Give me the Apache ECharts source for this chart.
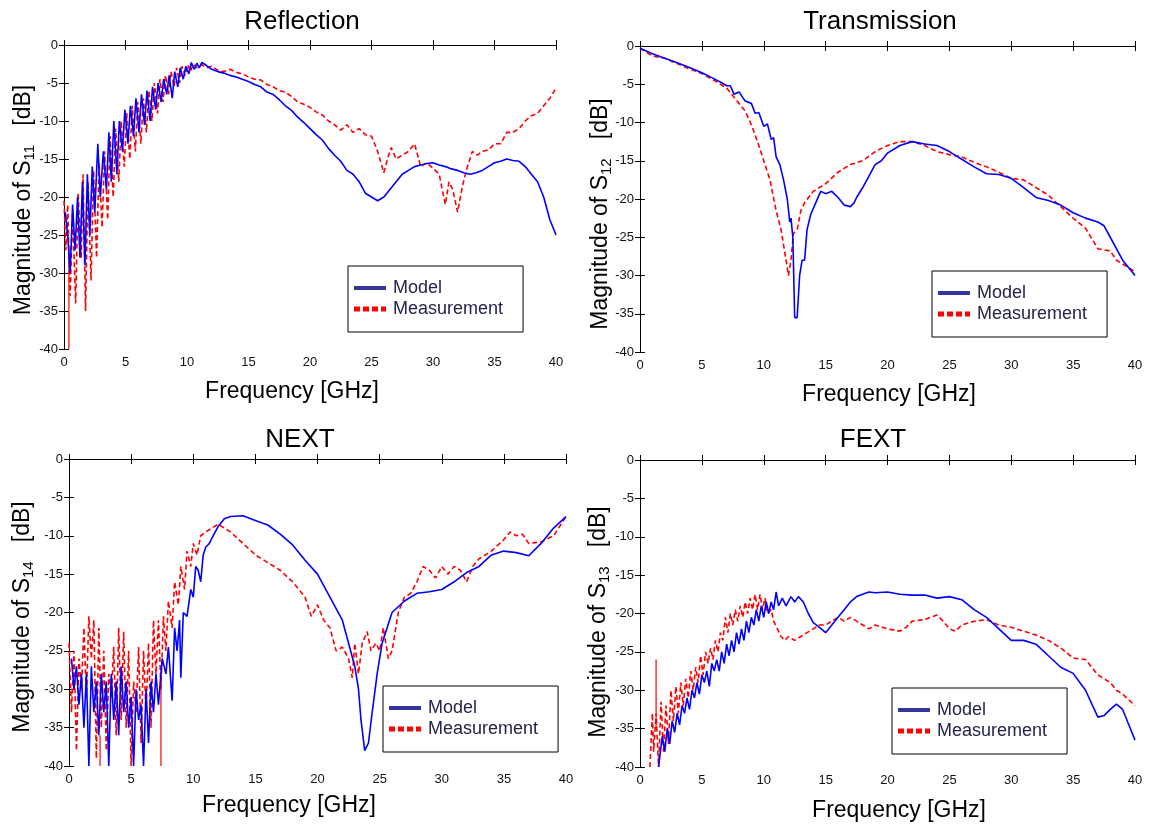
<!DOCTYPE html>
<html><head><meta charset="utf-8">
<script src="https://cdn.jsdelivr.net/npm/echarts@6/dist/echarts.min.js"></script>
<style>html,body{margin:0;padding:0;background:#fff}#c{width:1151px;height:825px}</style>
</head><body><div id="c"></div>
<script>
// ---------- DATA ----------
const xTicks = [0,5,10,15,20,25,30,35,40];
const yTicks = [-40,-35,-30,-25,-20,-15,-10,-5,0];
const legendNames = ['Model','Measurement'];
const panelTitles = ['Reflection','Transmission','NEXT','FEXT'];
const panelSubs = ['11','12','14','13'];

const reflectionModel = [[0.1,-22],[0.3,-25],[0.5,-30],[0.7,-21],[0.9,-27],[1.1,-20],[1.3,-28],[1.5,-18],[1.7,-29],[1.9,-17],[2.1,-25],[2.3,-16],[2.5,-22],[2.75,-13],[2.95,-20],[3.2,-14],[3.45,-19],[3.65,-11.5],[3.85,-18],[4.05,-10],[4.3,-17],[4.5,-10],[4.75,-14],[4.95,-8.5],[5.2,-13],[5.4,-8],[5.65,-12],[5.85,-7],[6.1,-11.5],[6.3,-6.5],[6.55,-10.5],[6.75,-6],[7.0,-10],[7.2,-5.5],[7.45,-8.5],[7.65,-5],[7.9,-7.5],[8.1,-4.5],[8.35,-6.5],[8.55,-4],[8.8,-7],[9.0,-3.5],[9.25,-5.5],[9.45,-3],[9.7,-4.5],[9.9,-2.8],[10.15,-3.8],[10.35,-2.3],[10.6,-3.2],[10.8,-2.4],[11.0,-3],[11.2,-2.3],[11.5,-2.6],[12,-3.2],[12.5,-3.5],[13,-3.7],[13.5,-4],[14,-4.2],[14.5,-4.5],[15,-4.8],[15.5,-5.2],[16,-5.5],[16.5,-6.2],[17,-6.5],[17.5,-7.2],[18,-8],[18.5,-8.6],[19,-9.5],[19.5,-10.2],[20,-11],[20.5,-11.8],[21,-12.5],[21.5,-13.6],[22,-14.5],[22.5,-15.3],[23,-16.5],[23.5,-17],[24,-18],[24.5,-19.5],[25,-20],[25.5,-20.5],[26,-20],[26.5,-19],[27,-18],[27.5,-17],[28,-16.5],[28.5,-16],[29,-15.8],[29.5,-15.6],[30,-15.5],[30.5,-15.8],[31,-16],[31.5,-16.3],[32,-16.5],[32.5,-16.8],[33,-17],[33.5,-16.8],[34,-16.5],[34.5,-16],[35,-15.5],[35.5,-15.3],[36,-15],[36.5,-15.2],[37,-15.3],[37.5,-16],[38,-17],[38.5,-18],[39,-20],[39.5,-23],[40,-25]];
const reflectionMeas = [[0,-20.5],[0.15,-27],[0.3,-21],[0.5,-33],[0.7,-22],[0.95,-34],[1.15,-19.5],[1.4,-28],[1.55,-17],[1.75,-35],[1.95,-18],[2.2,-31],[2.4,-16.5],[2.65,-28],[2.85,-15.5],[3.1,-24],[3.3,-14],[3.55,-23],[3.75,-12],[4.0,-20],[4.2,-11],[4.45,-18],[4.65,-10],[4.9,-16],[5.1,-9],[5.35,-15],[5.55,-8],[5.8,-14],[6.0,-7.5],[6.25,-13],[6.45,-7],[6.7,-11.5],[6.9,-6],[7.15,-10],[7.35,-5],[7.6,-9],[7.8,-4.5],[8.05,-7.5],[8.25,-4],[8.5,-6.5],[8.7,-3.5],[8.95,-5.5],[9.15,-3],[9.4,-5],[9.6,-2.8],[9.85,-4],[10.05,-2.6],[10.3,-3.5],[10.5,-2.5],[10.8,-3],[11.2,-2.6],[11.6,-3],[12,-2.8],[12.5,-3.3],[13,-3.5],[13.5,-3.2],[14,-3.6],[14.5,-3.8],[15,-4.2],[15.5,-4.5],[16,-4.6],[16.5,-5.2],[17,-5.5],[17.5,-6],[18,-6.2],[18.5,-6.8],[19,-7.5],[19.5,-7.8],[20,-8.2],[20.5,-8.8],[21,-9.2],[21.5,-10],[22,-10.5],[22.5,-11.2],[23,-10.5],[23.5,-11.5],[24,-11],[24.5,-11.8],[25,-12],[25.5,-14],[26,-16.8],[26.3,-15],[26.6,-13.5],[27,-15],[27.5,-14.5],[28,-14],[28.5,-13],[29,-16],[29.5,-15.5],[30,-16.2],[30.5,-17],[31,-21],[31.3,-18],[31.6,-19],[32,-22],[32.4,-18.5],[32.8,-16],[33.2,-14],[33.6,-14.5],[34,-14],[34.5,-13.8],[35,-13],[35.5,-13],[36,-11.5],[36.5,-11.5],[37,-11],[37.5,-10],[38,-9.3],[38.5,-9],[39,-8],[39.5,-7],[40,-5.7]];
const reflectionSpike = [[0.4,-27],[0.4,-40]];

const transmissionModel = [[0,-0.3],[1,-1],[2,-1.6],[3,-2.2],[4,-2.8],[5,-3.5],[6,-4.3],[6.6,-4.8],[7,-5.2],[7.3,-5.2],[7.6,-6.3],[8,-6],[8.5,-7.2],[9,-7.5],[9.3,-8.8],[9.6,-8.7],[10,-10.5],[10.3,-10.2],[10.6,-12.2],[10.8,-12],[11,-14.5],[11.3,-15.5],[11.6,-17.5],[11.9,-20],[12.1,-23],[12.2,-22.5],[12.35,-25],[12.5,-35.5],[12.7,-35.5],[12.9,-30],[13.1,-28],[13.3,-28],[13.5,-24],[13.8,-22],[14.2,-20.5],[14.6,-19],[15,-19.3],[15.5,-19],[16,-19.8],[16.5,-20.8],[17,-21],[17.3,-20.5],[17.5,-19.8],[18,-18.5],[18.5,-17],[19,-15.5],[19.5,-15],[20,-14],[21,-13],[22,-12.5],[23,-12.8],[24,-13],[25,-13.8],[26,-14.8],[27,-15.8],[28,-16.7],[29,-16.8],[30,-17.3],[31,-18.5],[32,-19.8],[33,-20.2],[34,-20.8],[35,-21.8],[36,-22.5],[37,-23],[37.5,-23.5],[38,-25],[39,-28],[40,-30]];
const transmissionMeas = [[0,-0.3],[1,-1.3],[2,-1.6],[3,-2.3],[4,-3],[5,-3.6],[6,-4.5],[7,-5.5],[7.5,-6.5],[8,-7.5],[8.5,-8.5],[9,-10.3],[9.5,-12.5],[10,-15],[10.5,-17.5],[11,-21.5],[11.4,-24],[11.7,-27],[12,-30],[12.2,-28],[12.4,-24.5],[12.7,-24],[13,-21.5],[13.3,-20.5],[14,-19],[15,-18],[16,-16.5],[17,-15.5],[18,-15],[19,-13.8],[20,-13],[21,-12.5],[22,-12.5],[23,-13],[24,-13.8],[25,-14.2],[26,-14.5],[27,-15.2],[28,-15.8],[29,-16.5],[30,-17.3],[31,-17.5],[32,-18.5],[33,-19.5],[34,-21],[35,-22.5],[36,-23.8],[37,-26.5],[38,-26.8],[38.5,-28],[39,-28.5],[40,-29.5]];

const nextModel = [[0.2,-26],[0.4,-30],[0.6,-27],[0.8,-32],[1.0,-28],[1.2,-35],[1.4,-28],[1.6,-40],[1.8,-27],[2.0,-33],[2.2,-29],[2.4,-36],[2.6,-28],[2.8,-33],[3.0,-29],[3.2,-40],[3.4,-28],[3.6,-34],[3.8,-29],[4.0,-36],[4.2,-27],[4.4,-33],[4.6,-29],[4.8,-35],[5.0,-31],[5.2,-40],[5.4,-30],[5.6,-34],[5.8,-32],[6.0,-40],[6.2,-30],[6.4,-37],[6.6,-29],[6.8,-33],[7.0,-28],[7.2,-32],[7.5,-26],[7.8,-28],[8.0,-24.5],[8.3,-31.5],[8.5,-22],[8.7,-25],[8.9,-21],[9.0,-28.5],[9.2,-20],[9.5,-20.5],[9.8,-17],[10.0,-18],[10.2,-14],[10.4,-14.5],[10.6,-16],[10.8,-12.5],[11.0,-11.5],[11.3,-11],[11.6,-10],[12,-8.8],[12.5,-7.8],[13,-7.5],[14,-7.4],[15,-8],[16,-8.6],[17,-9.8],[18,-11.2],[19,-13.2],[20,-15],[21,-18],[22,-21],[22.5,-24],[23,-27],[23.3,-30],[23.5,-34],[23.8,-38],[24.1,-37],[24.4,-33],[24.8,-28],[25.2,-24],[26,-20],[27,-18.5],[28,-17.5],[29,-17.3],[30,-17],[31,-16],[32,-14.8],[33,-14],[34,-12.5],[35,-12],[36,-12.2],[37,-12.6],[38,-11],[39,-9],[40,-7.5]];
const nextMeas = [[0,-24],[0.2,-33],[0.4,-25],[0.6,-38],[0.8,-26],[1.0,-30],[1.2,-22],[1.4,-31],[1.6,-20.5],[1.8,-26],[2.0,-21],[2.2,-39],[2.4,-22],[2.6,-35],[2.8,-25],[3.0,-38],[3.2,-28],[3.4,-31],[3.6,-24.5],[3.8,-36],[4.0,-22],[4.2,-34],[4.4,-22.5],[4.6,-35],[4.8,-25],[5.0,-40],[5.2,-29],[5.4,-33],[5.6,-24.5],[5.8,-37],[6.0,-25],[6.2,-33],[6.4,-24],[6.6,-35],[6.8,-21],[7.0,-28],[7.2,-21],[7.4,-30],[7.6,-20.5],[7.8,-25],[8.0,-18.5],[8.3,-22],[8.5,-16],[8.8,-19],[9.0,-14],[9.3,-17],[9.5,-12],[9.8,-14],[10.0,-11],[10.3,-12.5],[10.6,-10],[11,-9.5],[11.5,-9],[12,-8.5],[12.5,-9],[13,-9.5],[14,-11],[15,-12.5],[16,-13.5],[17,-14.5],[18,-16],[19,-18],[19.5,-20.5],[20,-19],[20.5,-21],[21,-22],[21.5,-25],[22,-24.5],[22.5,-26],[22.8,-28.5],[23,-24],[23.3,-28],[23.6,-24],[24,-22.5],[24.3,-25],[24.7,-24],[25,-25],[25.3,-22],[25.7,-26],[26,-25],[26.5,-20],[27,-18],[27.5,-17.5],[28,-16],[28.5,-14],[29,-14.5],[29.5,-15.5],[30,-14],[30.5,-15],[31,-14],[31.5,-14.5],[32,-16],[32.5,-14],[33,-13],[34,-12],[35,-10.5],[35.5,-9.5],[36,-10],[36.5,-9.8],[37,-11],[38,-10.8],[39,-10],[40,-7.5]];
const nextSpikeA = [[2.5,-36],[2.5,-40]];
const nextSpikeB = [[7.4,-28],[7.4,-40]];

const fextModel = [[1.5,-40],[1.8,-36],[2.0,-38],[2.2,-35],[2.4,-37],[2.6,-34],[2.8,-35.5],[3.0,-33],[3.2,-34.5],[3.4,-32],[3.6,-33],[3.8,-31],[4.0,-32.5],[4.2,-30],[4.4,-31],[4.6,-29],[4.8,-30.5],[5.0,-28],[5.2,-29],[5.4,-27.5],[5.6,-29.5],[5.8,-26.5],[6.0,-27.5],[6.2,-26],[6.4,-27.5],[6.6,-25],[6.8,-26.5],[7.0,-24],[7.2,-25.5],[7.4,-23.5],[7.6,-25],[7.8,-22.5],[8.0,-24],[8.2,-22],[8.4,-23.5],[8.6,-21],[8.8,-22.5],[9.0,-20.5],[9.2,-21.5],[9.4,-19.5],[9.6,-21],[9.8,-19],[10.0,-20.5],[10.2,-18.5],[10.4,-20],[10.6,-18.5],[10.8,-19.5],[11.0,-17.2],[11.2,-19],[11.5,-18],[11.8,-19],[12.2,-17.8],[12.5,-18.5],[12.8,-17.8],[13.2,-18.5],[13.6,-20],[14,-21.2],[14.5,-21.8],[15,-22.5],[15.5,-21.5],[16,-20.5],[16.5,-19.5],[17,-18.5],[17.5,-17.8],[18,-17.5],[18.5,-17.2],[19,-17.3],[20,-17.2],[21,-17.5],[22,-17.6],[23,-17.6],[24,-18],[25,-17.8],[26,-18.2],[27,-19.5],[28,-20.5],[29,-22],[30,-23.5],[31,-23.5],[32,-24],[33,-25.5],[34,-27],[35,-27.8],[36,-30],[37,-33.5],[37.5,-33.3],[38,-32.5],[38.5,-31.8],[39,-32.5],[39.5,-34.5],[40,-36.5]];
const fextMeas = [[0.8,-40],[1.0,-33],[1.1,-38],[1.3,-33],[1.5,-40],[1.7,-31.5],[1.9,-38],[2.1,-32],[2.3,-37],[2.5,-30],[2.7,-34],[2.9,-29.5],[3.1,-33],[3.3,-29],[3.5,-32],[3.7,-28.5],[3.9,-31],[4.1,-27.5],[4.3,-30],[4.5,-27],[4.7,-29],[4.9,-25.5],[5.1,-28],[5.3,-25],[5.5,-26.5],[5.7,-24.5],[5.9,-26],[6.1,-23.5],[6.3,-25],[6.5,-22.5],[6.7,-23.5],[6.9,-20.5],[7.1,-22.5],[7.3,-20],[7.5,-21.5],[7.7,-19.5],[7.9,-21],[8.1,-19],[8.3,-20.5],[8.5,-18.5],[8.7,-20],[8.9,-18],[9.1,-19.5],[9.3,-17.5],[9.5,-19.5],[9.7,-17.5],[9.9,-19.5],[10.1,-18],[10.3,-20],[10.6,-19.5],[10.8,-21],[11.1,-22],[11.4,-23],[11.7,-23.5],[12,-23],[12.5,-23.5],[13,-23],[13.5,-22.5],[14,-22],[14.5,-21.5],[15,-21.5],[15.5,-21],[16,-20.5],[16.5,-21],[17,-20.5],[17.5,-21],[18,-21.5],[18.5,-22],[19,-21.5],[20,-22],[21,-22.3],[21.5,-21.8],[22,-21],[23,-20.8],[24,-20.2],[24.5,-21],[25,-22],[25.5,-22.3],[26,-21.5],[27,-21],[28,-20.8],[29,-21.5],[30,-21.8],[31,-22.3],[32,-22.8],[33,-23.5],[34,-24.5],[35,-25.8],[36,-26],[36.5,-27],[37,-28],[38,-29],[38.5,-30],[39,-30.5],[40,-32]];
const fextSpike = [[1.3,-26],[1.3,-35]];

// ---------- LAYOUT / STYLE ----------
const FONT = '"Liberation Sans", Arial, sans-serif';
const grids = [
  {left:64, top:45, width:492, height:304},
  {left:640, top:46, width:495, height:306},
  {left:69, top:459, width:497, height:307},
  {left:640, top:460, width:495, height:307}
];
const titlePos = [[302,22],[880,22],[300,440],[873,440]];
const xNamePos = [[292,392],[889,395],[289,806],[899,811]];
const yNamePos = [[24,200],[601,214],[23,617],[599,622]];
const legendBox = [[348,266],[932,271],[383,686],[892,688]];

const modelData = [reflectionModel, transmissionModel, nextModel, fextModel];
const measData = [reflectionMeas, transmissionMeas, nextMeas, fextMeas];
const spikes = [[reflectionSpike],[],[nextSpikeA,nextSpikeB],[fextSpike]];

const BLUE = '#0000ff', RED = '#ff0000';
const MODEL_ICON = 'path://M0,0H32V4H0Z';
const MEAS_ICON = 'path://M0,0H6V5H0Z M9,0H15V5H9Z M18,0H24V5H18Z M27,0H32V5H27Z';
const option = {backgroundColor:'#fff', animation:false, grid:[], xAxis:[], yAxis:[], series:[], legend:[], graphic:[]};

grids.forEach((g,i)=>{
  option.grid.push({left:g.left, top:g.top, width:g.width, height:g.height, containLabel:false});
  const axLine = {show:true, lineStyle:{color:'#000', width:1}};
  const tick = {show:true, inside:true, length:5, lineStyle:{color:'#000'}};
  option.xAxis.push({type:'value', gridIndex:i, min:xTicks[0], max:xTicks[xTicks.length-1], interval:5,
    axisLine:axLine, axisTick:tick, splitLine:{show:false},
    axisLabel:{fontSize:13, color:'#111', fontFamily:FONT, margin:7}});
  option.xAxis.push({type:'value', gridIndex:i, position:'top', min:0, max:40, interval:5,
    axisLine:axLine, axisTick:tick, splitLine:{show:false}, axisLabel:{show:false}});
  option.yAxis.push({type:'value', gridIndex:i, min:yTicks[0], max:yTicks[yTicks.length-1], interval:5,
    axisLine:axLine, axisTick:tick, splitLine:{show:false},
    axisLabel:{fontSize:13, color:'#111', fontFamily:FONT, margin:6}});
  option.yAxis.push({type:'value', gridIndex:i, position:'right', min:-40, max:0, interval:5,
    axisLine:axLine, axisTick:tick, splitLine:{show:false}, axisLabel:{show:false}});
  const xi = i*2, yi = i*2;
  option.series.push({type:'line', name:legendNames[0], xAxisIndex:xi, yAxisIndex:yi, data:modelData[i],
    showSymbol:false, symbol:'none', lineStyle:{color:BLUE, width:1.6}, itemStyle:{color:BLUE}, z:3});
  option.series.push({type:'line', name:legendNames[1], xAxisIndex:xi, yAxisIndex:yi, data:measData[i],
    showSymbol:false, symbol:'none', lineStyle:{color:RED, width:1.6, type:[5,3]}, itemStyle:{color:RED}, z:2});
  spikes[i].forEach(s=>{
    option.series.push({type:'line', name:'spike', xAxisIndex:xi, yAxisIndex:yi, data:s,
      showSymbol:false, symbol:'none', lineStyle:{color:RED, width:1.2}, z:2});
  });
  option.legend.push({orient:'vertical', left:legendBox[i][0], top:legendBox[i][1],
    backgroundColor:'#fff', borderColor:'#000', borderWidth:1, padding:[13,20,14,6],
    itemWidth:32, itemHeight:14, itemGap:3, selectedMode:false,
    textStyle:{fontSize:18, color:'#24244c', fontFamily:FONT, padding:[0,0,0,2]},
    data:[
      {name:legendNames[0], icon:MODEL_ICON, itemStyle:{color:'#33339a', borderWidth:0}},
      {name:legendNames[1], icon:MEAS_ICON, itemStyle:{color:RED, borderWidth:0}}
    ]});
  option.graphic.push({type:'text', x:titlePos[i][0], y:titlePos[i][1],
    style:{text:panelTitles[i], font:'26px '+FONT, fill:'#000', align:'center', verticalAlign:'middle', textAlign:'center', textVerticalAlign:'middle'}});
  option.graphic.push({type:'text', x:xNamePos[i][0], y:xNamePos[i][1],
    style:{text:'Frequency [GHz]', font:'23px '+FONT, fill:'#000', align:'center', verticalAlign:'middle', textAlign:'center', textVerticalAlign:'middle'}});
  option.graphic.push({type:'text', x:yNamePos[i][0], y:yNamePos[i][1], rotation:Math.PI/2,
    style:{text:'{n|Magnitude of S}{s|'+panelSubs[i]+'}{n|   [dB]}', fill:'#000', align:'center', verticalAlign:'middle', textAlign:'center', textVerticalAlign:'middle',
      rich:{n:{fontSize:23, fontFamily:FONT, fill:'#000', color:'#000', lineHeight:26, verticalAlign:'middle'},
            s:{fontSize:15, fontFamily:FONT, fill:'#000', color:'#000', lineHeight:15, padding:[12,0,0,0], verticalAlign:'bottom'}}}});
});

const chart = echarts.init(document.getElementById('c'), null, {renderer:'canvas'});
chart.setOption(option);
</script></body></html>
